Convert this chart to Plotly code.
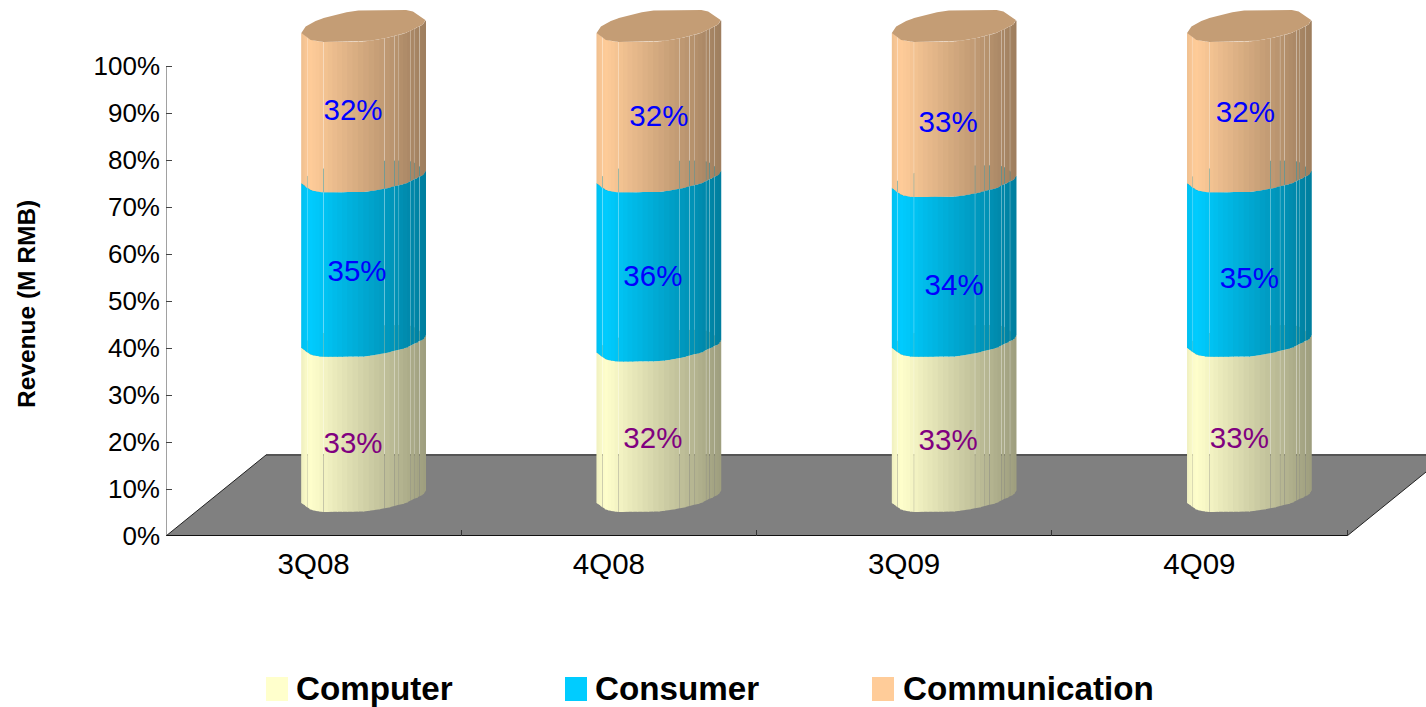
import numpy as np
import plotly.graph_objects as go

# ---------- data ----------
categories = ["3Q08", "4Q08", "3Q09", "4Q09"]
computer = [33, 32, 33, 33]
consumer = [35, 36, 34, 35]
communication = [32, 32, 33, 32]
series_names = ["Computer", "Consumer", "Communication"]
y_ticks = [0, 10, 20, 30, 40, 50, 60, 70, 80, 90, 100]

# ---------- layout constants (pixels of the 1426x707 page) ----------
W, H = 1426, 707
X0, Y0 = 166, 536
PX_PER_CAT = 295.25
PX_PER_PCT = 4.7


def dx(px):
    return px / PX_PER_CAT


def dy(px):
    return px / PX_PER_PCT


BASES = [(255, 255, 204), (0, 204, 255), (255, 204, 153)]
HEX = ["#FFFFCC", "#00CCFF", "#FFCC99"]
LABEL_COLORS = ["#800080", "#0000FF", "#0000FF"]

# 3D look of the cylinders
CYL_SHIFT, CYL_A, ELL_B, ELL_B_BACK, ELL_S = dx(49.7), dx(62), dy(15), dy(16.5), dy(6.5)
LIFT = dy(39.5)
FLOOR_DX, FLOOR_DY = dx(100), dy(81)
FRONT_FRAC = [-1, -.85, -.67, 0, .11, .37, .69, .96, 1]
BACK_FRAC = [-1, -.93, -.77, -.64, -.48, -.27, -.08, 0, .69, .8, 1]
N_STRIPS = 36
SEAM_PX = [6, 21, 86, 92, 97, 110, 114, 119]
OVERLAP, GAP = dx(0.9), dx(0.13)

# label placement: horizontal offset from the axis category centre (px), height on the y axis
LABEL_OFFSET_PX = [[39.4, 43.4, 39.4], [44, 44, 50], [44, 50, 44], [40, 50, 46]]
LABEL_HEIGHT = [[19.2, 55.8, 90.0], [20.2, 54.7, 88.7], [19.8, 52.8, 87.5], [20.2, 54.3, 89.6]]


def front_y(u):
    """u in [-1, 1] across the cylinder; y offset of the front edge"""
    fu = np.array(FRONT_FRAC)
    fy = -ELL_B * np.sqrt(np.clip(1 - fu ** 2, 0, 1)) + ELL_S * fu
    return np.interp(u, fu, fy)


def back_y(u):
    bu = np.array(BACK_FRAC)
    by = ELL_B_BACK * np.sqrt(np.clip(1 - bu ** 2, 0, 1)) + ELL_S * bu
    return np.interp(u, bu, by)


def shade(base, u):
    t = (u + 1) / 2
    f = 0.94 + t / 0.07 * 0.06 if t < 0.07 else 1 - (t - 0.07) / 0.93 * 0.38
    return "rgb(%d,%d,%d)" % tuple(int(round(c * f)) for c in base)


traces = []

# floor
fx = [-0.5, 3.5, 3.5 + FLOOR_DX, -0.5 + FLOOR_DX, -0.5]
fy = [0, 0, FLOOR_DY, FLOOR_DY, 0]
traces.append(go.Scatter(x=fx, y=fy, mode="lines", fill="toself", fillcolor="#808080",
                         line=dict(color="#222222", width=1), hoverinfo="skip", cliponaxis=False))
traces.append(go.Scatter(x=[-0.5, 3.5], y=[0, 0], mode="lines",
                         line=dict(color="#111111", width=2), hoverinfo="skip", cliponaxis=False))
traces.append(go.Scatter(x=[-0.5 + FLOOR_DX, 3.5 + FLOOR_DX], y=[FLOOR_DY, FLOOR_DY], mode="lines",
                         line=dict(color="#555555", width=2), hoverinfo="skip"))
# value axis line stops at 100 %
traces.append(go.Scatter(x=[-0.5, -0.5], y=[y_ticks[0], y_ticks[-1]], mode="lines",
                         line=dict(color="#444444", width=1), hoverinfo="skip", cliponaxis=False))

angles = np.linspace(np.pi, 2 * np.pi, N_STRIPS + 1)
edges = np.cos(angles)
seam_u = [(2 * s / 125.0) - 1 for s in SEAM_PX]
seam_idx = {int(np.argmin(np.abs(edges - s))) for s in seam_u}
seam_idx -= {0, N_STRIPS}

for i in range(len(categories)):
    cx = i + CYL_SHIFT
    base_h = LIFT
    for s, vals in enumerate([computer, consumer, communication]):
        lo = base_h
        hi = base_h + vals[i]
        base_h = hi
        # strips of the front wall
        for k in range(N_STRIPS):
            u1, u2 = edges[k], edges[k + 1]
            xl = cx + CYL_A * u1 + (GAP if k in seam_idx else 0)
            xr = cx + CYL_A * u2 + (-GAP if (k + 1) in seam_idx else (OVERLAP if k + 1 < N_STRIPS else 0))
            traces.append(go.Scatter(
                x=[xl, xr, xr, xl, xl],
                y=[lo + front_y(u1), lo + front_y(u2), hi + front_y(u2), hi + front_y(u1), lo + front_y(u1)],
                mode="lines", fill="toself", fillcolor=shade(BASES[s], (u1 + u2) / 2),
                line=dict(width=0), hoverinfo="skip"))
        # cap of the segment (only the last one stays fully visible)
        uu = np.array(sorted(set(FRONT_FRAC) | set(BACK_FRAC)))
        cap_x = np.r_[cx + CYL_A * uu, (cx + CYL_A * uu)[::-1]]
        cap_y = np.r_[hi + front_y(uu), (hi + back_y(uu))[::-1]]
        traces.append(go.Scatter(
            x=cap_x, y=cap_y, mode="lines", fill="toself",
            fillcolor="rgb(%d,%d,%d)" % tuple(int(c * 0.77) for c in BASES[s]),
            line=dict(width=0), hoverinfo="skip"))

# value labels
for s, vals in enumerate([computer, consumer, communication]):
    traces.append(go.Scatter(
        x=[i + LABEL_OFFSET_PX[i][s] / PX_PER_CAT for i in range(len(categories))],
        y=[LABEL_HEIGHT[i][s] for i in range(len(categories))],
        text=["%d%%" % v for v in vals], mode="text", textposition="middle center",
        textfont=dict(family="Liberation Sans", size=29.5, color=LABEL_COLORS[s]),
        hoverinfo="skip"))

fig = go.Figure(traces)


def px(x):
    return (x - X0) / (W - X0)


def py(y):
    return (Y0 - y) / Y0


annotations = [dict(text="<b>Revenue (M RMB)</b>", x=px(26), y=py(304), xref="paper", yref="paper",
                    textangle=-90, showarrow=False, xanchor="center", yanchor="middle",
                    font=dict(family="Liberation Sans", size=24.5, color="#000000"))]
shapes = []
for name, col, sw, tx in zip(series_names, HEX, [266, 565, 872], [296, 595, 903]):
    shapes.append(dict(type="rect", xref="paper", yref="paper", x0=px(sw), x1=px(sw + 22),
                       y0=py(677), y1=py(701), fillcolor=col, line=dict(width=0)))
    annotations.append(dict(text="<b>%s</b>" % name, x=px(tx), y=py(688), xref="paper", yref="paper",
                            showarrow=False, xanchor="left", yanchor="middle", xshift=-2,
                            font=dict(family="Liberation Sans", size=33.2, color="#000000")))

fig.update_layout(
    width=W, height=H, showlegend=False, paper_bgcolor="white", plot_bgcolor="white",
    margin=dict(l=X0, r=0, t=0, b=H - Y0, pad=0),
    annotations=annotations, shapes=shapes,
    xaxis=dict(range=[-0.5, -0.5 + (W - X0) / PX_PER_CAT], tickmode="array",
               tickvals=list(range(len(categories))), ticktext=categories,
               showgrid=False, zeroline=False, showline=False, ticks="outside", ticklen=0,
               ticklabelstandoff=2,
               tickfont=dict(family="Liberation Sans", size=29.5, color="#000000"),
               minor=dict(tickmode="array", tickvals=[0.5, 1.5, 2.5, 3.5], ticks="inside",
                          ticklen=6, tickcolor="#333333", tickwidth=1, showgrid=False)),
    yaxis=dict(range=[0, Y0 / PX_PER_PCT], tickmode="array", tickvals=y_ticks,
               ticktext=["%d%%" % v for v in y_ticks], showgrid=False, zeroline=False,
               showline=False, ticks="inside", ticklen=6, tickcolor="#444444", tickwidth=1,
               ticklabelstandoff=5,
               tickfont=dict(family="Liberation Sans", size=26, color="#000000")),
)

fig.write_html("out.html", config={"displayModeBar": False},
               post_script="document.body.style.margin='0';document.body.style.overflow='hidden';")
